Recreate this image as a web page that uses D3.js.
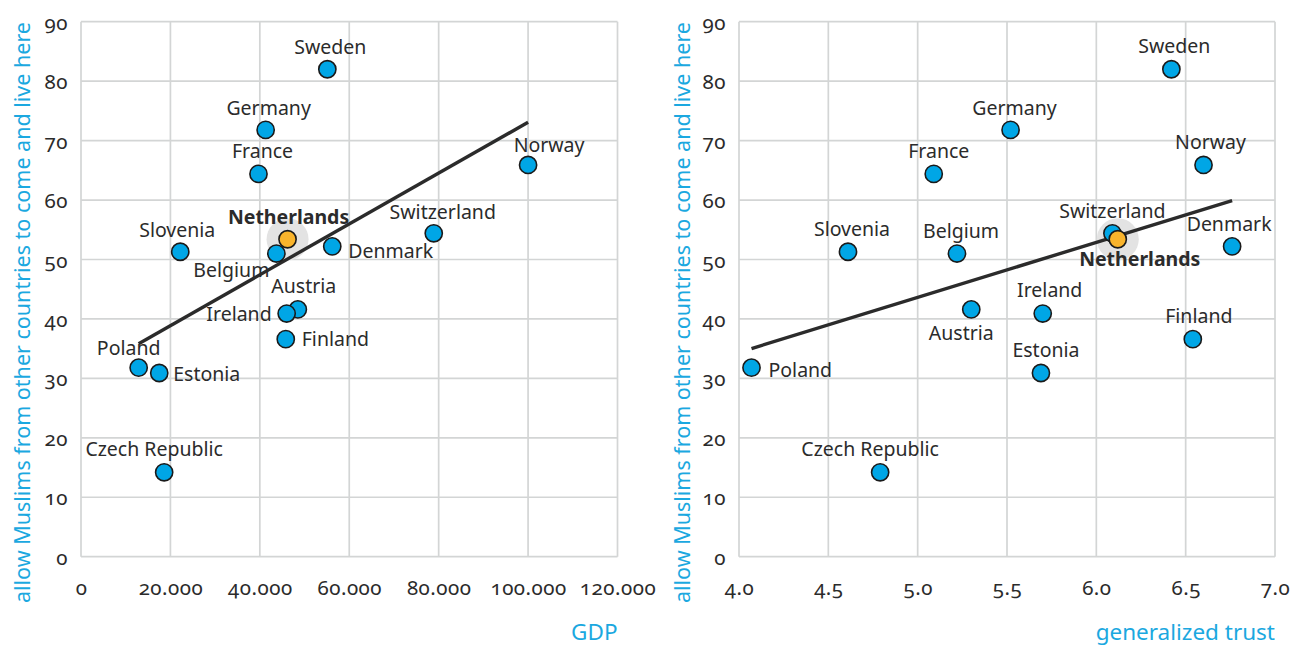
<!DOCTYPE html>
<html>
<head>
<meta charset="utf-8">
<script src="https://cdn.jsdelivr.net/npm/d3@7"></script>
<style>
  html, body { margin: 0; padding: 0; background: #ffffff; }
  svg { display: block; }
  text { font-family: "Noto Sans", "Open Sans", sans-serif; }
  .tick text { font-variant-numeric: oldstyle-nums; font-feature-settings: "onum" 1; }
</style>
</head>
<body>
<svg id="chart" width="1290" height="648"></svg>
<script>
// Countries and their values: GDP per capita, generalized trust score,
// and share (%) that would allow Muslims from other countries to come and live here.
const countries = ["Sweden", "Germany", "France", "Netherlands", "Belgium", "Slovenia", "Denmark",
  "Austria", "Ireland", "Finland", "Poland", "Estonia", "Czech Republic", "Switzerland", "Norway"];
const gdp = [55100, 41300, 39700, 46200, 43700, 22200, 56200,
  48500, 46000, 45800, 12900, 17500, 18600, 78900, 100000];
const trust = [6.42, 5.52, 5.09, 6.12, 5.22, 4.61, 6.76,
  5.30, 5.70, 6.54, 4.07, 5.69, 4.79, 6.09, 6.60];
const allowMuslims = [82.0, 71.8, 64.4, 53.4, 51.0, 51.3, 52.2,
  41.6, 40.9, 36.6, 31.8, 30.9, 14.2, 54.4, 65.9];

const allowTicks = [0, 10, 20, 30, 40, 50, 60, 70, 80, 90];
const gdpTicks = [0, 20000, 40000, 60000, 80000, 100000, 120000];
const trustTicks = [4.0, 4.5, 5.0, 5.5, 6.0, 6.5, 7.0];

const highlight = "Netherlands";
const yTitle = "allow Muslims from other countries to come and live here";

// Label placement per country: [text-anchor, dx, dy] relative to the dot
const gdpLabels = {
  "Sweden": ["middle", 3, -15], "Germany": ["middle", 3, -15], "France": ["middle", 4, -16],
  "Netherlands": ["middle", 1, -15], "Belgium": ["end", -7, 23], "Slovenia": ["middle", -3, -15],
  "Denmark": ["start", 16, 12], "Austria": ["middle", 6, -16], "Ireland": ["end", -15, 7],
  "Finland": ["start", 16, 7], "Poland": ["middle", -10, -13], "Estonia": ["start", 14, 8],
  "Czech Republic": ["middle", -10, -16], "Switzerland": ["middle", 9, -14], "Norway": ["middle", 21, -13]
};
const trustLabels = {
  "Sweden": ["middle", 3, -16], "Germany": ["middle", 4, -15], "France": ["middle", 5, -16],
  "Netherlands": ["middle", 22, 27], "Belgium": ["middle", 4, -16], "Slovenia": ["middle", 4, -16],
  "Denmark": ["middle", -3, -15], "Austria": ["middle", -10, 31], "Ireland": ["middle", 7, -17],
  "Finland": ["middle", 6, -16], "Poland": ["start", 17, 9], "Estonia": ["middle", 5, -16],
  "Czech Republic": ["middle", -10, -16], "Switzerland": ["middle", 0, -15], "Norway": ["middle", 7, -16]
};

const BLUE = "#00a6e6";
const ORANGE = "#f9b42c";
const TITLE = "#1ba8e0";
const INK = "#2b2b2b";
const GRID = "#d3d5d5";

const svg = d3.select("#chart");
const nlFormat = d3.formatLocale({ decimal: ",", thousands: ".", grouping: [3], currency: ["", ""] }).format(",d");

const yScale = d3.scaleLinear().domain([0, 90]).range([556.7, 21.7]);

function linearFit(xs, ys) {
  const mx = d3.mean(xs), my = d3.mean(ys);
  const sxy = d3.sum(xs, (x, i) => (x - mx) * (ys[i] - my));
  const sxx = d3.sum(xs, x => (x - mx) * (x - mx));
  const b = sxy / sxx;
  return x => my + b * (x - mx);
}

function drawPanel(opts) {
  const { xValues, xTicks, xDomain, xRange, xFormat, xTitle, labels, titleX } = opts;
  const x = d3.scaleLinear().domain(xDomain).range(xRange);
  const y = yScale;
  const g = svg.append("g");

  // grid (outer lines double as the frame)
  g.append("g").selectAll("line.v").data(xTicks).join("line")
    .attr("x1", d => x(d)).attr("x2", d => x(d))
    .attr("y1", y(90)).attr("y2", y(0))
    .attr("stroke", GRID).attr("stroke-width", 1.7);
  g.append("g").selectAll("line.h").data(allowTicks).join("line")
    .attr("x1", x(xDomain[0])).attr("x2", x(xDomain[1]))
    .attr("y1", d => y(d)).attr("y2", d => y(d))
    .attr("stroke", GRID).attr("stroke-width", 1.7);

  // axes (labels only)
  const ya = g.append("g").attr("transform", `translate(${x(xDomain[0])},0)`)
    .call(d3.axisLeft(y).tickValues(allowTicks).tickSize(0).tickPadding(13).tickFormat(d3.format("d")));
  ya.select(".domain").remove();
  ya.selectAll("text").attr("font-size", 20.5).attr("fill", INK).attr("dy", "0.37em")
    .style("font-family", "'Noto Sans', sans-serif").attr("letter-spacing", 0.5);

  const xa = g.append("g").attr("transform", `translate(0,${y(0)})`)
    .call(d3.axisBottom(x).tickValues(xTicks).tickSize(0).tickPadding(24).tickFormat(xFormat));
  xa.select(".domain").remove();
  xa.selectAll("text").attr("font-size", 20.5).attr("fill", INK)
    .style("font-family", "'Noto Sans', sans-serif").attr("letter-spacing", 0.5);

  // axis titles
  g.append("text")
    .attr("transform", `translate(${titleX},22) rotate(-90)`)
    .attr("text-anchor", "end")
    .attr("font-size", 21.5).attr("fill", TITLE)
    .text(yTitle);
  g.append("text")
    .attr("x", x(xDomain[1])).attr("y", 640)
    .attr("text-anchor", "end")
    .attr("font-size", 22.5).attr("fill", TITLE)
    .text(xTitle);

  const pts = countries.map((c, i) => ({ name: c, xv: xValues[i], yv: allowMuslims[i] }));
  const hl = pts.find(p => p.name === highlight);

  // halo behind the highlighted country
  g.append("circle")
    .attr("cx", x(hl.xv)).attr("cy", y(hl.yv)).attr("r", 21)
    .attr("fill", "#e3e3e3");

  // country labels
  g.append("g").selectAll("text").data(pts).join("text")
    .attr("x", d => x(d.xv) + labels[d.name][1])
    .attr("y", d => y(d.yv) + labels[d.name][2])
    .attr("text-anchor", d => labels[d.name][0])
    .attr("font-size", 19.5)
    .attr("font-weight", d => d.name === highlight ? 700 : 400)
    .attr("fill", INK)
    .text(d => d.name);

  // least-squares trend line over the observed range
  const fit = linearFit(xValues, allowMuslims);
  const [xmin, xmax] = d3.extent(xValues);
  g.append("line")
    .attr("x1", x(xmin)).attr("y1", y(fit(xmin)))
    .attr("x2", x(xmax)).attr("y2", y(fit(xmax)))
    .attr("stroke", INK).attr("stroke-width", 3.4);

  // dots, highlighted country on top
  const ordered = pts.filter(p => p.name !== highlight).concat([hl]);
  g.append("g").selectAll("circle").data(ordered).join("circle")
    .attr("cx", d => x(d.xv)).attr("cy", d => y(d.yv)).attr("r", 8.6)
    .attr("fill", d => d.name === highlight ? ORANGE : BLUE)
    .attr("stroke", "#1a1a1a").attr("stroke-width", 1.6);
}

drawPanel({
  xValues: gdp, xTicks: gdpTicks, xDomain: [0, 120000], xRange: [81, 617.5],
  xFormat: d => nlFormat(d), xTitle: "GDP", labels: gdpLabels, titleX: 30
});
drawPanel({
  xValues: trust, xTicks: trustTicks, xDomain: [4, 7], xRange: [739, 1275],
  xFormat: d3.format(".1f"), xTitle: "generalized trust", labels: trustLabels, titleX: 690
});
</script>
</body>
</html>
